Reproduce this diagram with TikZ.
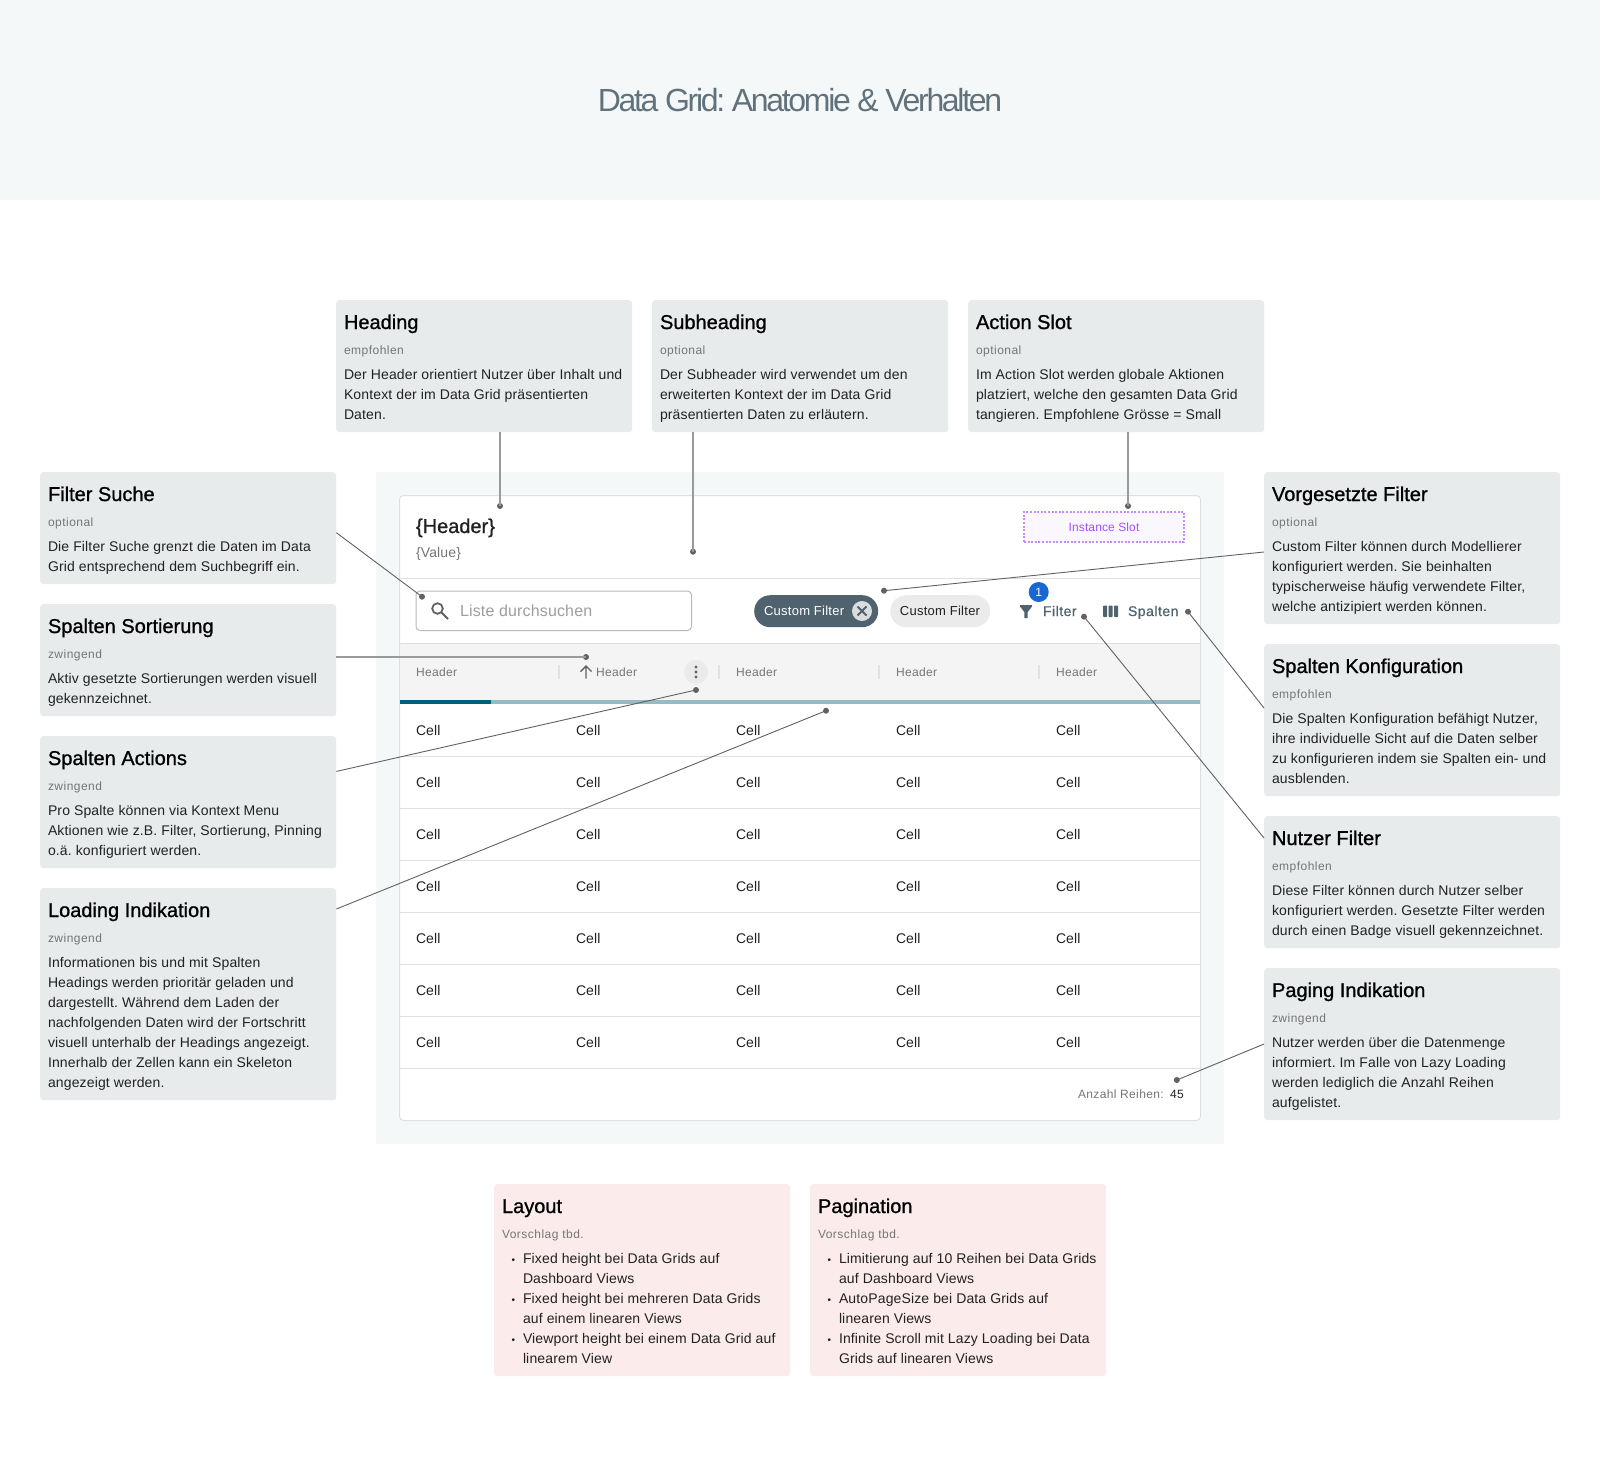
\documentclass[tikz,border=0pt]{standalone}
\usepackage{fontspec}
\setmainfont{Liberation Sans}
\newfontfamily\bodyf[LetterSpace=1.0]{Liberation Sans}
\newfontfamily\smallf[LetterSpace=3.0]{Liberation Sans}
\newfontfamily\subf[LetterSpace=4.0]{Liberation Sans}
\newfontfamily\chipf[LetterSpace=2.0]{Liberation Sans}
\newfontfamily\medf[FakeBold=1.0]{Liberation Sans}
\newfontfamily\btnf[FakeBold=0.6,LetterSpace=3.5]{Liberation Sans}
\newfontfamily\titlef[LetterSpace=-7.2]{Liberation Sans}
\definecolor{boxgrey}{HTML}{E8EBEC}
\definecolor{boxpink}{HTML}{FBEBEB}
\definecolor{panel}{HTML}{F5F8F9}
\definecolor{ink}{HTML}{212121}
\definecolor{mute}{HTML}{757575}
\definecolor{wire}{HTML}{616161}
\definecolor{softwire}{HTML}{9A9A9A}
\definecolor{rule}{HTML}{E0E0E0}
\definecolor{slate}{HTML}{4F626D}
\definecolor{teal}{HTML}{00607A}
\definecolor{tealL}{HTML}{97BAC4}
\definecolor{headbg}{HTML}{F4F4F4}
\definecolor{purp}{HTML}{A64DFF}
\definecolor{purpL}{HTML}{C68CFF}
\definecolor{purpBg}{HTML}{FBF7FF}
\definecolor{badgeblue}{HTML}{1967D2}
\tikzset{
  infobox/.style={rectangle,rounded corners=3pt,fill=boxgrey,minimum width=296pt,inner sep=0,anchor=north west},
  pinkbox/.style={infobox,fill=boxpink},
  txt/.style={inner sep=0,outer sep=0,anchor=base west},
  boxtitle/.style={txt,font=\medf\fontsize{20}{24}\selectfont,text=black},
  boxsub/.style={txt,font=\subf\fontsize{12}{16}\selectfont,text=mute},
  boxbody/.style={inner sep=0,outer sep=0,anchor=north west,align=left,font=\bodyf\fontsize{14}{20}\selectfont,text=ink},
  celltxt/.style={txt,font=\bodyf\fontsize{14}{20}\selectfont,text=ink},
  headtxt/.style={txt,font=\smallf\fontsize{12}{16}\selectfont,text=mute},
  wiredot/.style={circle,fill=wire,inner sep=0,minimum size=6pt},
  wireline/.style={draw=wire,line width=0.9pt},
  softline/.style={draw=softwire,line width=1.8pt},
  rowline/.style={draw=rule,line width=1pt},
  sepbar/.style={draw=rule,line width=2pt},
}
\newcommand{\infocard}[8][infobox]{%
  \begin{scope}[shift={(#3,#4)}]
    \node[#1,minimum height=#5pt] (#2) at (0,0) {};
    \node[boxtitle] (#2-t) at (8,29) {#6};
    \node[boxsub] (#2-s) at (8,54) {#7};
    \node[boxbody] (#2-b) at (8,65) {\strut #8};
  \end{scope}}
\newcommand{\bul}{\llap{{\fontsize{10}{10}\selectfont •}\hspace{8pt}}}
\begin{document}
\frenchspacing
\begin{tikzpicture}[x=1pt,y=-1pt]
\useasboundingbox (0,0) rectangle (1600,1481);
\fill[white] (0,0) rectangle (1600,1481);
\fill[panel] (0,0) rectangle (1600,200);
\node[txt,anchor=base,font=\titlef\fontsize{32}{38}\selectfont,text=slate!90!white] (title) at (800,111) {Data Grid: Anatomie \& Verhalten};

% panel and card
\fill[panel] (376,472) rectangle (1224,1144);
\node[draw=rule,line width=1pt,outer sep=0,fill=white,rounded corners=4pt,inner sep=0,minimum width=801pt,minimum height=625pt,anchor=north west] (card) at (399.5,495.5) {};

% header
\node[txt,font=\medf\fontsize{20}{24}\selectfont,text=ink] (hd) at (416,533) {\{Header\}};
\node[txt,font=\bodyf\fontsize{14}{18}\selectfont,text=mute] (val) at (416,557) {\{Value\}};
\draw[rowline] (400,578) -- (1200,578);
\node[draw=purpL,dash pattern=on 2pt off 1.6pt,line width=1.6pt,outer sep=0,fill=purpBg,inner sep=0,minimum width=160pt,minimum height=30pt,anchor=north west] (slot) at (1024,512) {};
\node[txt,anchor=base,font=\bodyf\fontsize{12}{16}\selectfont,text=purp] (slott) at (1104,531.5) {Instance Slot};

% toolbar
\node[draw=black!27,line width=1pt,outer sep=0,rounded corners=4pt,inner sep=0,minimum width=275.5pt,minimum height=39.5pt,anchor=north west] (search) at (416,591) {};
\draw[wire,line width=1.8pt] (437.5,608.5) circle (5.3);
\draw[wire,line width=2pt] (441.5,612.5) -- (448,619);
\node[txt,font=\bodyf\fontsize{16}{20}\selectfont,text=black!38] (searcht) at (460,616) {Liste durchsuchen};
\node[fill=slate,rounded corners=16pt,inner sep=0,minimum width=124pt,minimum height=32pt,anchor=north west] (chipa) at (754,595) {};
\node[txt,font=\chipf\fontsize{13}{16}\selectfont,text=white] (chipat) at (764,615.5) {Custom Filter};
\fill[white!78!slate] (862,611) circle (10);
\draw[slate,line width=2pt] (857.5,606.5) -- (866.5,615.5) (866.5,606.5) -- (857.5,615.5);
\node[fill=black!8,rounded corners=16pt,inner sep=0,minimum width=100pt,minimum height=32pt,anchor=north west] (chipb) at (890,595) {};
\node[txt,anchor=base,font=\chipf\fontsize{13}{16}\selectfont,text=ink] (chipbt) at (940,615.5) {Custom Filter};
\fill[slate] (1020,605) -- (1032,605) -- (1032,606.5) -- (1027.7,612) -- (1027.7,618) -- (1024.3,618) -- (1024.3,612) -- (1020,606.5) -- cycle;
\node[txt,font=\btnf\fontsize{14}{16}\selectfont,text=slate] (filt) at (1043,616) {Filter};
\fill[badgeblue] (1038.7,592) circle (10);
\node[txt,anchor=base,font=\bodyf\fontsize{12}{14}\selectfont,text=white] (badge) at (1038.7,596.3) {1};
\foreach \x in {1103,1108.5,1114}{\fill[slate,rounded corners=0.8pt] (\x,605.5) rectangle ++(4.2,11.5);}
\node[txt,font=\btnf\fontsize{14}{16}\selectfont,text=slate] (colt) at (1128,616) {Spalten};

% table header
\fill[headbg] (400,643) rectangle (1200,700);
\draw[rowline] (400,643) -- (1200,643);
\fill[tealL] (400,700) rectangle (1200,704);
\fill[teal] (400,700) rectangle (491,704);
\node[headtxt] (h1) at (416,676) {Header};
\node[headtxt] (h2) at (596,676) {Header};
\node[headtxt] (h3) at (736,676) {Header};
\node[headtxt] (h4) at (896,676) {Header};
\node[headtxt] (h5) at (1056,676) {Header};
\foreach \x in {559,719,879,1039}{\draw[sepbar] (\x,665) -- (\x,679);}
\draw[wire,line width=1.4pt] (586,678.5) -- (586,666) (580.5,671.5) -- (586,666) -- (591.5,671.5);
\fill[black!8] (696,672) circle (12);
\foreach \y in {667,672,677}{\fill[wire] (696,\y) circle (1.7);}

% rows
\foreach \y in {756,808,860,912,964,1016,1068}{\draw[rowline] (400,\y) -- (1200,\y);}
\foreach \r in {0,...,6}{
  \foreach \x in {416,576,736,896,1056}{
    \pgfmathsetmacro{\yy}{735+52*\r}
    \node[celltxt] (c-\r-\x) at (\x,\yy) {Cell};
  }
}
% footer
\node[txt,font=\smallf\fontsize{12}{16}\selectfont,text=mute] (anz) at (1078,1098) {Anzahl Reihen:};
\node[txt,font=\smallf\fontsize{12}{16}\selectfont,text=ink] (num) at (1170,1098) {45};

% cards
\infocard{heading}{336}{300}{132}{Heading}{empfohlen}{Der Header orientiert Nutzer über Inhalt und\\Kontext der im Data Grid präsentierten\\Daten.}
\infocard{subheading}{652}{300}{132}{Subheading}{optional}{Der Subheader wird verwendet um den\\erweiterten Kontext der im Data Grid\\präsentierten Daten zu erläutern.}
\infocard{action}{968}{300}{132}{Action Slot}{optional}{Im Action Slot werden globale Aktionen\\platziert, welche den gesamten Data Grid\\tangieren. Empfohlene Grösse = Small}
\infocard{fsuche}{40}{472}{112}{Filter Suche}{optional}{Die Filter Suche grenzt die Daten im Data\\Grid entsprechend dem Suchbegriff ein.}
\infocard{ssort}{40}{604}{112}{Spalten Sortierung}{zwingend}{Aktiv gesetzte Sortierungen werden visuell\\gekennzeichnet.}
\infocard{sact}{40}{736}{132}{Spalten Actions}{zwingend}{Pro Spalte können via Kontext Menu\\Aktionen wie z.B. Filter, Sortierung, Pinning\\o.ä. konfiguriert werden.}
\infocard{load}{40}{888}{212}{Loading Indikation}{zwingend}{Informationen bis und mit Spalten\\Headings werden prioritär geladen und\\dargestellt. Während dem Laden der\\nachfolgenden Daten wird der Fortschritt\\visuell unterhalb der Headings angezeigt.\\Innerhalb der Zellen kann ein Skeleton\\angezeigt werden.}
\infocard{vfilt}{1264}{472}{152}{Vorgesetzte Filter}{optional}{Custom Filter können durch Modellierer\\konfiguriert werden. Sie beinhalten\\typischerweise häufig verwendete Filter,\\welche antizipiert werden können.}
\infocard{skonf}{1264}{644}{152}{Spalten Konfiguration}{empfohlen}{Die Spalten Konfiguration befähigt Nutzer,\\ihre individuelle Sicht auf die Daten selber\\zu konfigurieren indem sie Spalten ein- und\\ausblenden.}
\infocard{nfilt}{1264}{816}{132}{Nutzer Filter}{empfohlen}{Diese Filter können durch Nutzer selber\\konfiguriert werden. Gesetzte Filter werden\\durch einen Badge visuell gekennzeichnet.}
\infocard{paging}{1264}{968}{152}{Paging Indikation}{zwingend}{Nutzer werden über die Datenmenge\\informiert. Im Falle von Lazy Loading\\werden lediglich die Anzahl Reihen\\aufgelistet.}
\begin{scope}[shift={(494,1184)}]
  \node[pinkbox,minimum height=192pt] (layout) at (0,0) {};
  \node[boxtitle] (layout-t) at (8,29) {Layout};
  \node[boxsub] (layout-s) at (8,54) {Vorschlag tbd.};
  \node[boxbody] (layout-b) at (29,65) {\strut\bul Fixed height bei Data Grids auf\\Dashboard Views\\\bul Fixed height bei mehreren Data Grids\\auf einem linearen Views\\\bul Viewport height bei einem Data Grid auf\\linearem View};
\end{scope}
\begin{scope}[shift={(810,1184)}]
  \node[pinkbox,minimum height=192pt] (pagin) at (0,0) {};
  \node[boxtitle] (pagin-t) at (8,29) {Pagination};
  \node[boxsub] (pagin-s) at (8,54) {Vorschlag tbd.};
  \node[boxbody] (pagin-b) at (29,65) {\strut\bul Limitierung auf 10 Reihen bei Data Grids\\auf Dashboard Views\\\bul AutoPageSize bei Data Grids auf\\linearen Views\\\bul Infinite Scroll mit Lazy Loading bei Data\\Grids auf linearen Views};
\end{scope}

% connectors
\node[wiredot] (d1) at (500,506) {};
\node[wiredot] (d2) at (693,551.7) {};
\node[wiredot] (d3) at (1128,506) {};
\node[wiredot] (d4) at (422,596.7) {};
\node[wiredot] (d5) at (586,657) {};
\node[wiredot] (d6) at (696,690) {};
\node[wiredot] (d7) at (826,710.7) {};
\node[wiredot] (d8) at (884,590.7) {};
\node[wiredot] (d9) at (1188,611.7) {};
\node[wiredot] (d10) at (1084,616.7) {};
\node[wiredot] (d11) at (1176.8,1080) {};
\draw[softline] (heading.south -| d1) -- (d1.center);
\draw[softline] (subheading.south -| d2) -- (d2.center);
\draw[softline] (action.south -| d3) -- (d3.center);
\draw[wireline] ([yshift=-60.7pt]fsuche.north east) -- (d4.center);
\draw[softline] (ssort.east |- d5) -- (d5.center);
\draw[wireline] ([yshift=-35.4pt]sact.north east) -- (d6.center);
\draw[wireline] ([yshift=-21pt]load.north east) -- (d7.center);
\draw[wireline] ([yshift=-80pt]vfilt.north west) -- (d8.center);
\draw[wireline] ([yshift=-64pt]skonf.north west) -- (d9.center);
\draw[wireline] ([yshift=-22pt]nfilt.north west) -- (d10.center);
\draw[wireline] ([yshift=-76pt]paging.north west) -- (d11.center);
\end{tikzpicture}
\end{document}
